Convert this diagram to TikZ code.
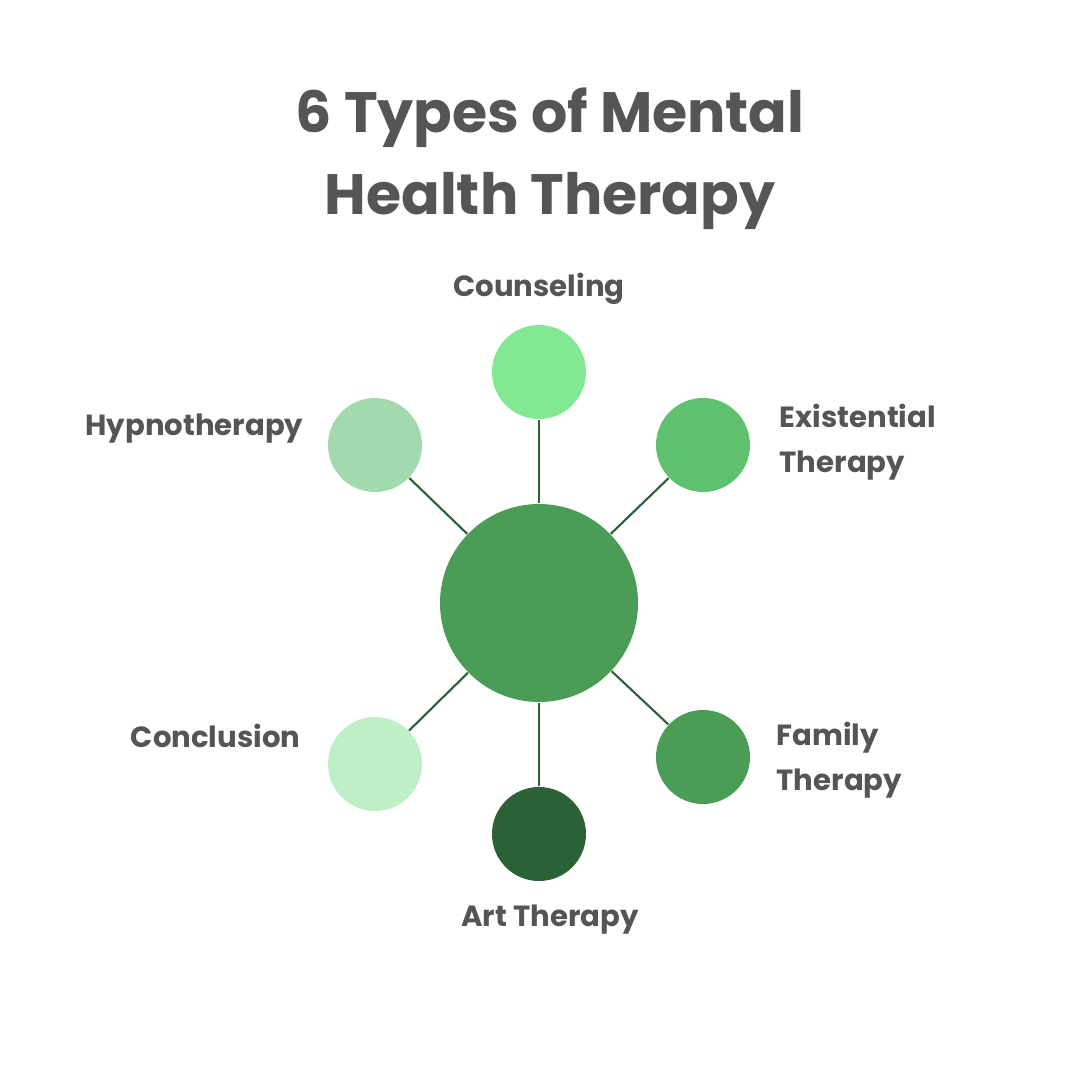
\documentclass[tikz,border=0pt]{standalone}
\usepackage{fontspec}
\setmainfont{Poppins}
\usepackage{tikz}
\usetikzlibrary{positioning}
\definecolor{GrisTexto}{RGB}{85,85,85}
\definecolor{VerdeLinea}{RGB}{42,98,53}
\definecolor{VerdeCentro}{RGB}{74,156,87}
\definecolor{VerdeClaro}{RGB}{130,232,146}
\definecolor{VerdeMedio}{RGB}{95,193,111}
\definecolor{VerdeSuave}{RGB}{162,217,173}
\definecolor{VerdePalido}{RGB}{191,239,199}
\definecolor{VerdeOscuro}{RGB}{42,98,53}

\begin{document}
\begin{tikzpicture}[
  bolita/.style={circle,inner sep=0pt,minimum size=0.94cm},
  etiqueta/.style={text=GrisTexto,font=\fontsize{8.3}{12.8}\selectfont\bfseries,inner sep=0pt},
  rayo/.style={draw=VerdeLinea,line width=0.6pt}]
  \useasboundingbox[fill=white] (0,0) rectangle (10.8,-10.8);
  % titulo
  \node[text=GrisTexto,align=center,font=\fontsize{16.2}{23.3}\selectfont\bfseries] (titulo) at (5.5,-1.59) {6 Types of Mental\\Health Therapy};
  % circulos
  \node[circle,inner sep=0pt,minimum size=1.98cm,fill=VerdeCentro] (centro) at (5.39,-6.03) {};
  \node[bolita,fill=VerdeClaro] (counseling) at (5.39,-3.72) {};
  \node[bolita,fill=VerdeMedio] (existential) at (7.03,-4.45) {};
  \node[bolita,fill=VerdeSuave] (hypno) at (3.75,-4.45) {};
  \node[bolita,fill=VerdePalido] (conclusion) at (3.75,-7.64) {};
  \node[bolita,fill=VerdeOscuro] (art) at (5.39,-8.34) {};
  \node[bolita,fill=VerdeCentro] (family) at (7.03,-7.57) {};
  % rayos
  \foreach \n in {counseling,existential,hypno,conclusion,art,family}
    \draw[rayo] (centro) -- (\n);
  % etiquetas
  \node[etiqueta] (tCounseling) at (5.39,-2.89) {Counseling};
  \node[etiqueta,anchor=east] (tHypno) at (3.04,-4.29) {Hypnotherapy};
  \node[etiqueta,anchor=west,align=left] (tExistential) at (7.79,-4.42) {Existential\\Therapy};
  \node[etiqueta,anchor=east] (tConclusion) at (3.01,-7.36) {Conclusion};
  \node[etiqueta,anchor=west,align=left] (tFamily) at (7.76,-7.60) {Family\\Therapy};
  \node[etiqueta] (tArt) at (5.50,-9.20) {Art Therapy};
\end{tikzpicture}
\end{document}
